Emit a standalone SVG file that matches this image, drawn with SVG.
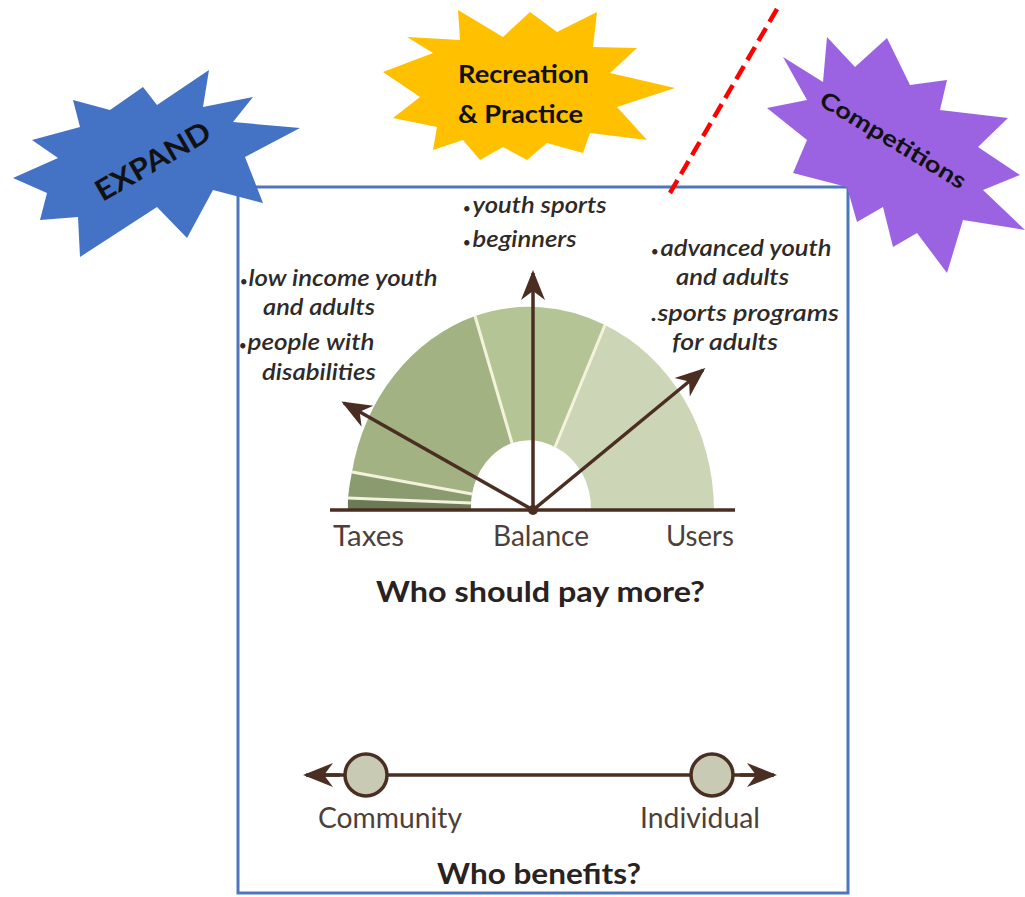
<svg xmlns="http://www.w3.org/2000/svg" width="1025" height="897" viewBox="0 0 1025 897">
<defs>
<style>
.lbl{font-family:Lato,"Open Sans","Liberation Sans",sans-serif;font-style:italic;font-weight:600;font-size:22px;fill:#2e2a28}
.b{font-size:13px;font-style:normal}
.axis{font-family:Lato,"Open Sans","Liberation Sans",sans-serif;font-size:28px;fill:#4d3f3a}
.ttl{font-family:Lato,"Open Sans","Liberation Sans",sans-serif;font-weight:bold;font-size:28px;fill:#2a2220}
.star{font-family:Lato,"Open Sans","Liberation Sans",sans-serif;font-weight:bold;fill:#111}
.arw{stroke:#4a2e22;stroke-width:3.5;fill:none}
.sep{stroke:#f4f2dc;stroke-width:3}
</style>
<marker id="ah2" viewBox="0 0 10 10" refX="9" refY="5" markerWidth="30" markerHeight="30" markerUnits="userSpaceOnUse" orient="auto">
<path d="M0,1 L10,5 L0,9 L3,5 Z" fill="#4a2e22"/>
</marker>
</defs>
<rect width="1025" height="897" fill="#ffffff"/>

<g id="frame">
<rect x="238" y="187" width="610" height="706" fill="#ffffff" stroke="#4f76ba" stroke-width="3"/>
</g>

<g id="expand">
<polygon fill="#4472c4" points="209,70 203,107 253,97 233,122 300,128 245,157 263,203 213,190 187,238 157,207 80,257 78,217 40,220 47,193 13,178 58,158 32,140 80,127 73,100 110,110 143,87 157,105"/>
<text class="star" font-size="29" transform="translate(158,170) rotate(-30)" text-anchor="middle" textLength="128" lengthAdjust="spacingAndGlyphs">EXPAND</text>
</g>

<g id="recreation">
<polygon fill="#ffc000" points="383,72 433,53 407,37 460,40 458,10 503,37 530,12 557,32 597,12 593,47 637,48 610,73 675,88 617,107 647,140 590,133 583,153 547,143 527,160 503,147 480,160 463,140 433,150 437,127 393,118 420,97"/>
<text class="star" font-size="24" x="458" y="83" textLength="131" lengthAdjust="spacingAndGlyphs">Recreation</text>
<text class="star" font-size="24" x="458" y="123" textLength="125" lengthAdjust="spacingAndGlyphs">&amp; Practice</text>
</g>

<g id="competitions">
<polygon fill="#9b63e2" points="783,57 823,82 827,37 855,67 887,38 910,85 947,80 940,110 1008,118 978,147 1020,175 983,190 1025,230 963,220 947,273 917,233 893,247 883,207 857,222 847,187 793,173 807,140 767,108 807,100"/>
<text class="star" font-size="23" transform="translate(889,147) rotate(31)" text-anchor="middle" textLength="166" lengthAdjust="spacingAndGlyphs">Competitions</text>
</g>

<g id="divider">
<line x1="777" y1="9" x2="670" y2="193" stroke="#ff0000" stroke-width="4.5" stroke-dasharray="15,7"/>
</g>

<g id="gauge">
<path fill="#ccd5b5" d="M714,510 A183,203 0 0 0 605,325 L555,447 A60,67 0 0 1 591,510 Z"/>
<path fill="#b5c494" d="M605,325 A183,203 0 0 0 475,316 L512,443 A60,67 0 0 1 555,447 Z"/>
<path fill="#a2b283" d="M475,316 A183,203 0 0 0 352,472 L472,494 A60,67 0 0 1 512,443 Z"/>
<path fill="#8b9b70" d="M352,472 A183,203 0 0 0 348,498 L471,503 A60,67 0 0 1 472,494 Z"/>
<path fill="#6d7a58" d="M348,498 A183,203 0 0 0 348,510 L471,510 A60,67 0 0 1 471,503 Z"/>
<line class="sep" x1="605" y1="325" x2="555" y2="447"/>
<line class="sep" x1="475" y1="316" x2="512" y2="443"/>
<line class="sep" x1="352" y1="472" x2="472" y2="494"/>
<line class="sep" x1="348" y1="498" x2="471" y2="503"/>
</g>

<g id="connectors">
<line class="arw" x1="330" y1="510" x2="735" y2="510"/>
<line class="arw" x1="533" y1="510" x2="533" y2="273" marker-end="url(#ah2)"/>
<line class="arw" x1="533" y1="510" x2="344" y2="403" marker-end="url(#ah2)"/>
<line class="arw" x1="533" y1="510" x2="703" y2="370" marker-end="url(#ah2)"/>
<circle cx="533" cy="510" r="5" fill="#4a2e22"/>
<line class="arw" x1="307" y1="775" x2="773" y2="775"/>
<line class="arw" x1="340" y1="775" x2="306" y2="775" marker-end="url(#ah2)"/>
<line class="arw" x1="740" y1="775" x2="774" y2="775" marker-end="url(#ah2)"/>
</g>

<g id="labels-top">
<text class="lbl" x="463" y="213"><tspan class="b">•</tspan><tspan dx="2" textLength="134" lengthAdjust="spacingAndGlyphs">youth sports</tspan></text>
<text class="lbl" x="463" y="247"><tspan class="b">•</tspan><tspan dx="2" textLength="104" lengthAdjust="spacingAndGlyphs">beginners</tspan></text>
</g>
<g id="labels-left">
<text class="lbl" x="240" y="286"><tspan class="b">•</tspan><tspan dx="1" textLength="189" lengthAdjust="spacingAndGlyphs">low income youth</tspan></text>
<text class="lbl" x="263" y="315" textLength="112" lengthAdjust="spacingAndGlyphs">and adults</text>
<text class="lbl" x="239" y="350"><tspan class="b">•</tspan><tspan dx="1" textLength="127" lengthAdjust="spacingAndGlyphs">people with</tspan></text>
<text class="lbl" x="262" y="380" textLength="114" lengthAdjust="spacingAndGlyphs">disabilities</text>
</g>
<g id="labels-right">
<text class="lbl" x="651" y="256"><tspan class="b">•</tspan><tspan dx="2" textLength="171" lengthAdjust="spacingAndGlyphs">advanced youth</tspan></text>
<text class="lbl" x="676" y="285" textLength="113" lengthAdjust="spacingAndGlyphs">and adults</text>
<text class="lbl" x="651" y="321" textLength="188" lengthAdjust="spacingAndGlyphs">.sports programs</text>
<text class="lbl" x="672" y="350" textLength="106" lengthAdjust="spacingAndGlyphs">for adults</text>
</g>

<g id="axis-labels">
<text class="axis" x="333" y="546" textLength="71" lengthAdjust="spacingAndGlyphs">Taxes</text>
<text class="axis" x="493" y="546" textLength="96" lengthAdjust="spacingAndGlyphs">Balance</text>
<text class="axis" x="666" y="546" textLength="68" lengthAdjust="spacingAndGlyphs">Users</text>
<text class="ttl" x="376" y="602" textLength="329" lengthAdjust="spacingAndGlyphs">Who should pay more?</text>
</g>

<g id="community">
<circle cx="366" cy="775" r="21" fill="#c9cab3" stroke="#4a2e22" stroke-width="3.5"/>
<text class="axis" x="318" y="828" textLength="144" lengthAdjust="spacingAndGlyphs">Community</text>
</g>
<g id="individual">
<circle cx="712" cy="775" r="21" fill="#c9cab3" stroke="#4a2e22" stroke-width="3.5"/>
<text class="axis" x="640" y="828" textLength="120" lengthAdjust="spacingAndGlyphs">Individual</text>
</g>
<g id="benefits-title">
<text class="ttl" x="437" y="884" textLength="204" lengthAdjust="spacingAndGlyphs">Who benefits?</text>
</g>
</svg>
